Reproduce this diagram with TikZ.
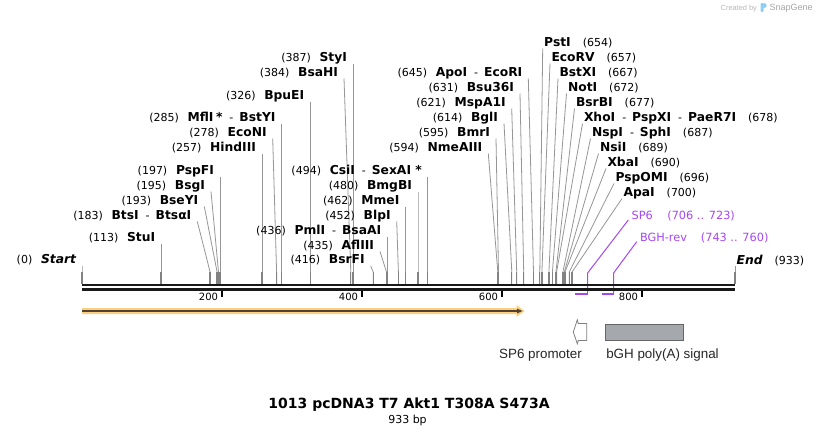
\documentclass[tikz,border=0pt]{standalone}
\usepackage{fontspec}
\setmainfont{DejaVu Sans}
\newfontfamily\arialf{Liberation Sans}
\definecolor{primc}{RGB}{166,72,240}
\definecolor{orangef}{RGB}{252,207,128}
\definecolor{darkbr}{RGB}{80,66,52}
\definecolor{linegray}{RGB}{150,150,150}
\definecolor{stubgray}{RGB}{130,130,130}
\definecolor{polyfill}{RGB}{165,168,173}
\definecolor{logoblue}{RGB}{142,208,244}
\newcommand{\pnum}[1]{{\fontsize{11}{12}\selectfont #1}}
\newcommand{\enz}[1]{{\fontsize{12.3}{13}\selectfont\bfseries #1}}
\newcommand{\lgap}{\hspace{8.7pt}}
\newcommand{\rgap}{\hspace{12pt}}
\newcommand{\dsh}{\hspace{7pt}{\fontsize{11}{12}\selectfont -}\hspace{6pt}}
\tikzset{
  lab/.style={inner sep=0pt, outer sep=0pt},
  siteln/.style={draw=linegray, line width=0.8pt},
  stubln/.style={draw=stubgray, line width=1.3pt},
  primln/.style={draw=primc, line width=1pt},
  primlab/.style={lab, text=primc, font=\fontsize{11.3}{12}\selectfont},
  ticklab/.style={lab, font=\fontsize{10}{11}\selectfont},
  featlab/.style={lab, font=\arialf\fontsize{13.4}{15}\selectfont, text=black!85}
}
\newcommand{\lsite}[5]{%
  \coordinate (s#1) at (#5,284);
  \node[lab, anchor=base east] (#1) at ({#3-6},{#4-2.5}) {#2};
  \draw[siteln] (#1.base east) ++(6,2.5) -- ([yshift=12pt]s#1) -- (s#1);
  \draw[stubln] ([yshift=12pt]s#1) -- (s#1);
}
\newcommand{\rsite}[5]{%
  \coordinate (s#1) at (#5,284);
  \node[lab, anchor=base west] (#1) at ({#3+1.5},{#4-2}) {#2};
  \draw[siteln] (#1.base west) ++(-1.5,2) -- ([yshift=12pt]s#1) -- (s#1);
  \draw[stubln] ([yshift=12pt]s#1) -- (s#1);
}
\begin{document}
\begin{tikzpicture}[x=1pt,y=-1pt]
\useasboundingbox (0,0) rectangle (818,434);
\fill[white] (0,0) rectangle (818,434);

% Created by SnapGene
\node[lab, anchor=base west, text=black!28, font=\arialf\fontsize{7.4}{8}\selectfont] (cby) at (720.7,10) {Created by};
\fill[logoblue, rounded corners=1pt] (760.5,3) rectangle (763.5,12);
\fill[logoblue] (764.3,5.6) circle (2.4);
\node[lab, anchor=base west, text=black!35, font=\arialf\fontsize{9}{10}\selectfont] (sg) at (769.5,10.6) {SnapGene};

% primers (behind backbone)
\coordinate (p1a) at (575.2,293.7);
\coordinate (p1b) at (587.6,293.7);
\coordinate (p1t) at (587.6,273);
\node[primlab, anchor=base west] (SP6) at (631.7,219.1) {SP6\hspace{14.5pt}(706 .. 723)};
\draw[primc, line width=2pt] (p1a) -- ([xshift=0.5pt]p1b);
\draw[primln] (SP6.base west) ++(-3.4,0.9) -- (p1t) -- (p1b);

\coordinate (p2a) at (601.7,293.7);
\coordinate (p2b) at (613.6,293.7);
\coordinate (p2t) at (613.6,273);
\node[primlab, anchor=base west] (BGH) at (640,241.1) {BGH-rev\hspace{14pt}(743 .. 760)};
\draw[primc, line width=2pt] (p2a) -- ([xshift=0.5pt]p2b);
\draw[primln] (BGH.base west) ++(-3.3,0.6) -- (p2t) -- (p2b);

% left-side sites
\lsite{Start}{\pnum{(0)}\lgap\enz{\itshape Start}}{82}{266}{82}
\lsite{StuI}{\pnum{(113)}\lgap\enz{StuI}}{161.1}{243.5}{161.1}
\lsite{BtsI}{\pnum{(183)}\lgap\enz{BtsI}\dsh\enz{BtsαI}}{197.3}{221.5}{210.1}
\lsite{BseYI}{\pnum{(193)}\lgap\enz{BseYI}}{204.3}{206.5}{217.1}
\lsite{BsgI}{\pnum{(195)}\lgap\enz{BsgI}}{211}{191.5}{218.5}
\lsite{PspFI}{\pnum{(197)}\lgap\enz{PspFI}}{219.9}{176.5}{219.9}
\lsite{HindIII}{\pnum{(257)}\lgap\enz{HindIII}}{261.9}{153.5}{261.9}
\lsite{EcoNI}{\pnum{(278)}\lgap\enz{EcoNI}}{272.7}{138.5}{276.6}
\lsite{MflI}{\pnum{(285)}\lgap\enz{MflI\hspace{2.5pt}*}\dsh\enz{BstYI}}{281.5}{123.5}{281.5}
\lsite{BpuEI}{\pnum{(326)}\lgap\enz{BpuEI}}{310.2}{101.5}{310.2}
\lsite{BsaHI}{\pnum{(384)}\lgap\enz{BsaHI}}{344}{78.5}{350.8}
\lsite{StyI}{\pnum{(387)}\lgap\enz{StyI}}{352.9}{63.5}{352.9}
\lsite{CsiI}{\pnum{(494)}\lgap\enz{CsiI}\dsh\enz{SexAI *}}{427.8}{176.5}{427.8}
\lsite{BmgBI}{\pnum{(480)}\lgap\enz{BmgBI}}{418}{191.5}{418}
\lsite{MmeI}{\pnum{(462)}\lgap\enz{MmeI}}{405.4}{206.5}{405.4}
\lsite{BlpI}{\pnum{(452)}\lgap\enz{BlpI}}{396.7}{221.5}{398.4}
\lsite{PmlI}{\pnum{(436)}\lgap\enz{PmlI}\dsh\enz{BsaAI}}{387.2}{236.5}{387.2}
\lsite{AflIII}{\pnum{(435)}\lgap\enz{AflIII}}{380}{251.5}{386.5}
\lsite{BsrFI}{\pnum{(416)}\lgap\enz{BsrFI}}{370.7}{266}{373.2}
\lsite{NmeAIII}{\pnum{(594)}\lgap\enz{NmeAIII}}{488.3}{153.5}{497.8}
\lsite{BmrI}{\pnum{(595)}\lgap\enz{BmrI}}{496}{138.5}{498.5}
\lsite{BglI}{\pnum{(614)}\lgap\enz{BglI}}{504}{123.5}{511.8}
\lsite{MspAI}{\pnum{(621)}\lgap\enz{MspA1I}}{511.7}{108.5}{516.7}
\lsite{BsuI}{\pnum{(631)}\lgap\enz{Bsu36I}}{520}{93.5}{523.7}
\lsite{ApoI}{\pnum{(645)}\lgap\enz{ApoI}\dsh\enz{EcoRI}}{528.3}{78.5}{533.5}

% right-side sites
\rsite{PstI}{\enz{PstI}\rgap\pnum{(654)}}{542.7}{48.5}{539.8}
\rsite{EcoRV}{\enz{EcoRV}\rgap\pnum{(657)}}{550}{63.5}{541.9}
\rsite{BstXI}{\enz{BstXI}\rgap\pnum{(667)}}{558}{78.5}{548.9}
\rsite{NotI}{\enz{NotI}\rgap\pnum{(672)}}{566.5}{93.5}{552.4}
\rsite{BsrBI}{\enz{BsrBI}\rgap\pnum{(677)}}{574.5}{108.5}{555.9}
\rsite{XhoI}{\enz{XhoI}\dsh\enz{PspXI}\dsh\enz{PaeR7I}\rgap\pnum{(678)}}{582.5}{123.5}{556.6}
\rsite{NspI}{\enz{NspI}\dsh\enz{SphI}\rgap\pnum{(687)}}{590.5}{138.5}{562.9}
\rsite{NsiI}{\enz{NsiI}\rgap\pnum{(689)}}{598.5}{153.5}{564.3}
\rsite{XbaI}{\enz{XbaI}\rgap\pnum{(690)}}{606}{168.5}{565}
\rsite{PspOMI}{\enz{PspOMI}\rgap\pnum{(696)}}{614}{183.5}{569.2}
\rsite{ApaI}{\enz{ApaI}\rgap\pnum{(700)}}{622}{198.5}{572}
\rsite{End}{\enz{\itshape End}\rgap\pnum{(933)}}{735.1}{266}{735.1}

% backbone
\coordinate (bbL) at (82,285);
\coordinate (bbR) at (735.3,285);
\draw[black!90, line width=2pt] (bbL) -- (bbR);
\draw[black!90, line width=2.6pt] ([yshift=-4.4pt]bbL) -- ([yshift=-4.4pt]bbR);

% ticks
\foreach \p/\xx in {200/222,400/362,600/502,800/642}{
  \draw[black, line width=2pt] (\xx,290.5) -- (\xx,297);
  \node[ticklab, anchor=east] (t\p) at (\xx-4,297) {\p};
}

% feature arrow
\fill[orangef] (82,308) -- (516.5,308) -- (516.5,305) -- (524.5,311) -- (516.5,317) -- (516.5,314) -- (82,314) -- cycle;
\draw[darkbr, line width=1.6pt] (82,311) -- (518,311);
\fill[darkbr] (517,308.6) -- (522.5,311) -- (517,313.4) -- cycle;

% SP6 promoter
\draw[black!50, line width=0.8pt, fill=white] (586.7,323.5) -- (578.3,323.5) -- (577.3,319.8) -- (573.3,332) -- (577.3,343.8) -- (578.3,340.5) -- (586.7,340.5) -- cycle;
\node[featlab, anchor=base] (sp6p) at (540.5,358) {SP6 promoter};

% bGH poly(A)
\draw[black!60, line width=0.7pt, fill=polyfill] (605,324) rectangle (683.3,340.7);
\node[featlab, anchor=base] (bgh) at (662.5,358) {bGH poly(A) signal};

% title
\node[lab, anchor=base, font=\fontsize{14}{16}\selectfont\bfseries] (title) at (409,408.4) {1013 pcDNA3 T7 Akt1 T308A S473A};
\node[lab, anchor=base, font=\fontsize{11}{12}\selectfont] (bp) at (407.5,423) {933 bp};
\end{tikzpicture}
\end{document}
